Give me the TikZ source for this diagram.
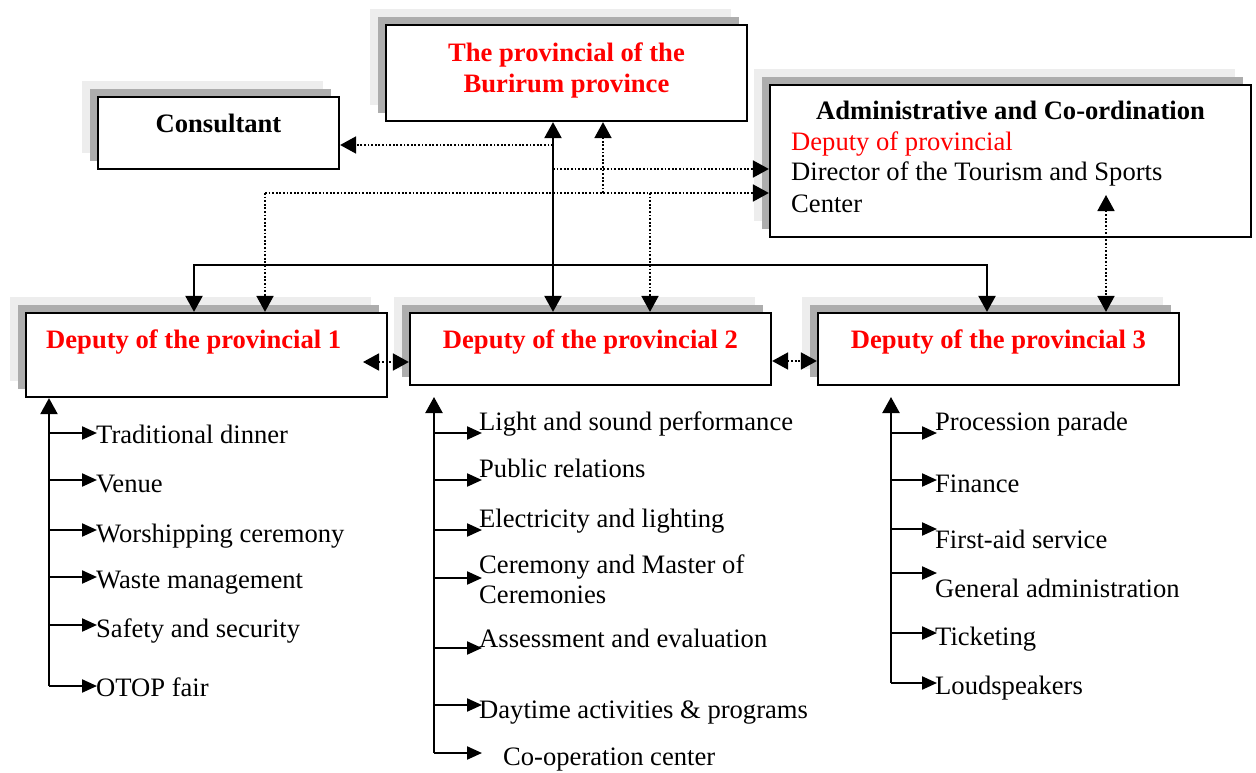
\documentclass[tikz,border=0pt]{standalone}
\usepackage{fontspec}
\setmainfont{Liberation Serif}
\usetikzlibrary{arrows.meta,shadows}
\begin{document}
\begin{tikzpicture}[x=1pt,y=-1pt,
  box/.style={draw,line width=2.2pt,fill=white,inner sep=0pt,
    general shadow={shadow xshift=-16pt,shadow yshift=16pt,fill=black!7,draw=none},
    general shadow={shadow xshift=-8pt,shadow yshift=8pt,fill=black!32,draw=none}},
  txt/.style={font=\fontsize{26.6pt}{31pt}\selectfont,inner sep=0pt,anchor=base west},
  ttl/.style={font=\fontsize{26.6pt}{31pt}\selectfont\bfseries,inner sep=0pt,anchor=base},
  solidln/.style={line width=2.2pt},
  dotln/.style={line width=1.8pt,dash pattern=on 1.8pt off 1.8pt},
  bigtip/.style={arrows={#1},>={Triangle[length=16pt,width=17pt]}},
  smalltip/.style={arrows={-Triangle[length=15pt,width=13pt]}}]
\useasboundingbox (0,0) rectangle (1256,773);

% boxes
\node[box,minimum width=361pt,minimum height=96pt] (B) at (566.5,73) {};
\node[ttl,red] (Bt1) at (566.5,62) {The provincial of the};
\node[ttl,red] (Bt2) at (566.5,93) {Burirum province};

\node[box,minimum width=241pt,minimum height=72pt] (C) at (218.5,133) {};
\node[ttl] (Ct) at (218.5,133) {Consultant};

\node[box,minimum width=481pt,minimum height=152pt] (A) at (1010.5,161) {};
\node[ttl] (At1) at (1010.5,120) {Administrative and Co-ordination};
\node[txt,red] (At2) at (791,150) {Deputy of provincial};
\node[txt] (At3) at (791,181) {Director of the Tourism and Sports};
\node[txt] (At4) at (791,212) {Center};

\node[box,minimum width=361pt,minimum height=84pt] (D1) at (206.5,355) {};
\node[ttl,red,anchor=base west] (D1t) at (46,348) {Deputy of the provincial 1};
\node[box,minimum width=361pt,minimum height=72pt] (D2) at (590.5,349) {};
\node[ttl,red] (D2t) at (590.5,348) {Deputy of the provincial 2};
\node[box,minimum width=361pt,minimum height=72pt] (D3) at (998.5,349) {};
\node[ttl,red] (D3t) at (998.5,348) {Deputy of the provincial 3};

% solid connectors
\coordinate (v) at (553,200);
\draw[solidln,bigtip={<->}] (B.south -| v) -- (D2.north -| v);
\coordinate (h) at (553,265);
\coordinate (h1) at (194,265);
\coordinate (h3) at (987,265);
\draw[solidln,bigtip={->}] (h) -- (h1) -- (h1 |- D1.north);
\draw[solidln,bigtip={->}] (h) -- (h3) -- (h3 |- D3.north);

% dotted connectors
\coordinate (j1) at (553,145);
\draw[dotln,bigtip={->}] (j1) -- (j1 -| C.east);
\coordinate (j2) at (553,169);
\draw[dotln,bigtip={->}] (j2) -- (j2 -| A.west);
\coordinate (j3) at (265,193);
\draw[dotln,bigtip={->}] (j3) -- (j3 -| A.west);
\draw[dotln,bigtip={->}] (j3) -- (j3 |- D1.north);
\coordinate (j4) at (603,193);
\draw[dotln,bigtip={->}] (j4) -- (j4 |- B.south);
\coordinate (j5) at (650,193);
\draw[dotln,bigtip={->}] (j5) -- (j5 |- D2.north);
\coordinate (a3) at (1106,195);
\draw[dotln,bigtip={<->}] (a3) -- (a3 |- D3.north);
\coordinate (d12) at (363,362);
\draw[dotln,bigtip={<->}] (d12) -- (d12 -| D2.west);
\draw[dotln,bigtip={<->}] ([yshift=-12pt]D2.east) -- ([yshift=-12pt]D3.west);

% list 1
\node[txt] (a1) at (96,443) {Traditional dinner};
\node[txt] (a2) at (96,492) {Venue};
\node[txt] (a3t) at (96,542) {Worshipping ceremony};
\node[txt] (a4) at (96,588) {Waste management};
\node[txt] (a5) at (96,637) {Safety and security};
\node[txt] (a6) at (96,696) {OTOP fair};
\coordinate (l1) at (49,686);
\draw[solidln,bigtip={->}] (l1) -- (l1 |- D1.south);
\foreach \yy in {433,480,530,577,625,686}
  \draw[solidln,smalltip] (l1 |- 0,\yy) -- (97,\yy);

% list 2
\node[txt] (b1) at (479,430) {Light and sound performance};
\node[txt] (b2) at (479,477) {Public relations};
\node[txt] (b3) at (479,527) {Electricity and lighting};
\node[txt] (b4) at (479,573) {Ceremony and Master of};
\node[txt] (b4b) at (479,603) {Ceremonies};
\node[txt] (b5) at (479,647) {Assessment and evaluation};
\node[txt] (b6) at (479,718) {Daytime activities \& programs};
\node[txt] (b7) at (503,765) {Co-operation center};
\coordinate (l2) at (434,753);
\coordinate (t2) at (434,397);
\draw[solidln,bigtip={->}] (l2) -- (t2);
\foreach \yy in {433,480,530,578,648,705,753}
  \draw[solidln,smalltip] (l2 |- 0,\yy) -- (482,\yy);

% list 3
\node[txt] (c1) at (935,430) {Procession parade};
\node[txt] (c2) at (935,492) {Finance};
\node[txt] (c3) at (935,548) {First-aid service};
\node[txt] (c4) at (935,597) {General administration};
\node[txt] (c5) at (935,645) {Ticketing};
\node[txt] (c6) at (935,694) {Loudspeakers};
\coordinate (l3) at (891,683);
\coordinate (t3) at (891,397);
\draw[solidln,bigtip={->}] (l3) -- (t3);
\foreach \yy in {433,480,529,573,633,683}
  \draw[solidln,smalltip] (l3 |- 0,\yy) -- (937,\yy);
\end{tikzpicture}
\end{document}
